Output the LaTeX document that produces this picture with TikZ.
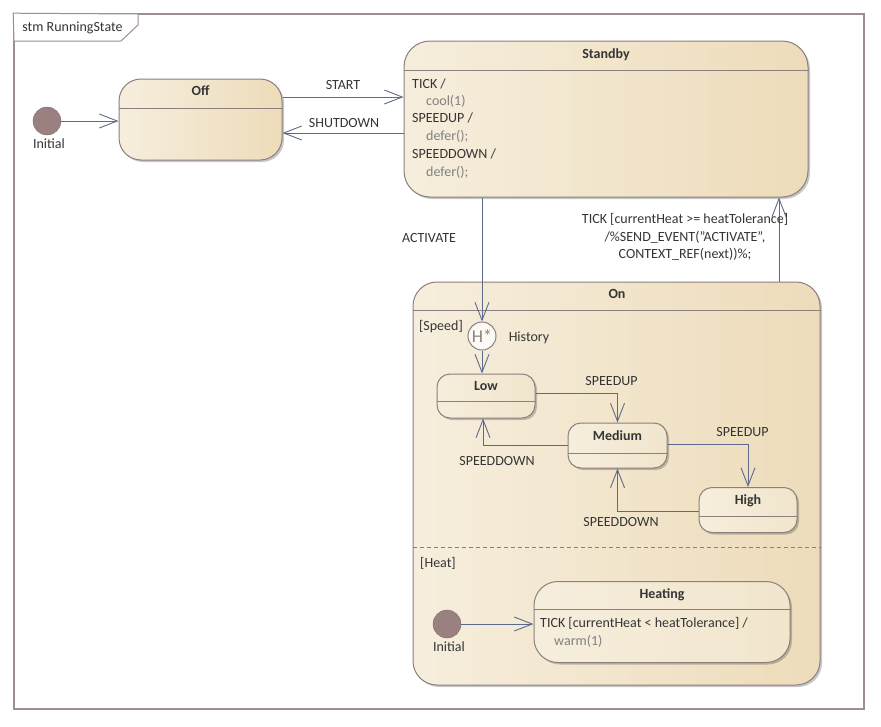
\documentclass[tikz,border=0pt]{standalone}
\usepackage{fontspec}
\setmainfont{Carlito}
\usetikzlibrary{arrows.meta,shadows,calc}
\definecolor{bord}{HTML}{8E7E7E}
\definecolor{framec}{HTML}{9E8E8E}
\definecolor{edge}{HTML}{5C6B8C}
\definecolor{fillL}{HTML}{F6EEDD}
\definecolor{fillR}{HTML}{EDDCBA}
\definecolor{fillIR}{HTML}{F1E5CC}
\definecolor{txt}{HTML}{353535}
\definecolor{act}{HTML}{808080}
\definecolor{initc}{HTML}{9A8080}
\begin{document}
\begin{tikzpicture}[x=1pt,y=-1pt,
  lbl/.style={inner sep=0pt, text=txt, text height=9pt, text depth=2.5pt, yshift=-1.5pt, font=\fontsize{14}{17.6}\selectfont},
  actl/.style={lbl, text=act},
  ttl/.style={lbl, font=\fontsize{14}{17.6}\selectfont\bfseries},
  statebox/.style={draw=bord, line width=1pt, left color=fillL, right color=fillR,
    drop shadow={shadow xshift=2pt, shadow yshift=-2pt, opacity=.22, fill=black}},
  innerbox/.style={statebox, right color=fillIR},
  hdr/.style={draw=bord, line width=1pt},
  initst/.style={circle, fill=initc, draw=initc!85!black, line width=.4pt, minimum size=28pt, inner sep=0pt},
  tr/.style={draw=edge, line width=0.9pt, -{Straight Barb[length=18pt,width=14pt]}}]
\useasboundingbox (0,0) rectangle (881,726);
\fill[white] (0,0) rectangle (881,726);

% frame
\node[draw=framec, line width=1.6pt, minimum width=850pt, minimum height=695pt, inner sep=0pt] (frame) at (439,361.5) {};
\draw[draw=framec, line width=1pt, fill=white] (frame.north west) -- (138,14) -- (138,25) -- (121,41) -- (14,41) -- cycle;
\node[lbl] (framelbl) at (72.5,27) {stm RunningState};

% Off
\node[initst] (init1) at (47,121) {};
\node[lbl] (init1lbl) at (49,144) {Initial};
\node[statebox, rounded corners=22pt, minimum width=163pt, minimum height=81pt] (off) at (200.5,119.5) {};
\draw[hdr] (off.west |- 0,108) -- (off.east |- 0,108);
\node[ttl] (offt) at (200.5,91) {Off};

% Standby
\node[statebox, rounded corners=26pt, minimum width=404pt, minimum height=156pt] (standby) at (606,119) {};
\draw[hdr] (standby.west |- 0,70) -- (standby.east |- 0,70);
\node[ttl] (standbyt) at (606,54) {Standby};
\node[lbl, anchor=west] (sb1) at (412,84) {TICK /};
\node[actl, anchor=west] (sb2) at (426,101) {cool(1)};
\node[lbl, anchor=west] (sb3) at (412,118) {SPEEDUP /};
\node[actl, anchor=west] (sb4) at (426,136) {defer();};
\node[lbl, anchor=west] (sb5) at (412,154) {SPEEDDOWN /};
\node[actl, anchor=west] (sb6) at (426,172) {defer();};

% On
\node[statebox, rounded corners=24pt, minimum width=407pt, minimum height=403pt] (on) at (616.5,483.5) {};
\draw[hdr] (on.west |- 0,310) -- (on.east |- 0,310);
\node[ttl] (ont) at (617,294) {On};
\draw[draw=bord, line width=.8pt, dash pattern=on 4pt off 3pt] (on.west |- 0,547) -- (on.east |- 0,547);
\node[lbl] (speedlbl) at (441,326) {[Speed]};
\node[lbl] (heatlbl) at (438,563) {[Heat]};

% history
\node[circle, draw=bord, line width=1pt, fill=white!70!fillL, minimum size=28pt, inner sep=0pt,
  font=\fontsize{18}{18}\selectfont, text=bord] (hist) at (482,336) {H*};
\node[lbl] (histlbl) at (529,337) {History};

% speed states
\node[innerbox, rounded corners=13pt, minimum width=98pt, minimum height=44pt] (low) at (486,396) {};
\draw[hdr] (low.west |- 0,401) -- (low.east |- 0,401);
\node[ttl] (lowt) at (486,386) {Low};
\node[innerbox, rounded corners=13pt, minimum width=99pt, minimum height=45pt] (medium) at (617.5,445.5) {};
\draw[hdr] (medium.west |- 0,453) -- (medium.east |- 0,453);
\node[ttl] (mediumt) at (617.5,436) {Medium};
\node[innerbox, rounded corners=13pt, minimum width=98pt, minimum height=45pt] (high) at (748,510) {};
\draw[hdr] (high.west |- 0,516) -- (high.east |- 0,516);
\node[ttl] (hight) at (748,500) {High};

% heat region
\node[initst] (init2) at (447,624) {};
\node[lbl] (init2lbl) at (449,647) {Initial};
\node[innerbox, rounded corners=24pt, minimum width=256pt, minimum height=81pt] (heating) at (662,622) {};
\draw[hdr] (heating.west |- 0,609) -- (heating.east |- 0,609);
\node[ttl] (heatingt) at (662,594) {Heating};
\node[lbl, anchor=west] (ht1) at (540,623) {TICK [currentHeat < heatTolerance] /};
\node[actl, anchor=west] (ht2) at (554,641) {warm(1)};

% transitions
\draw[tr] (init1) -- (init1 -| off.west);
\draw[tr] (off.east |- 0,97) -- (standby.west |- 0,97);
\node[lbl] (startl) at (343,85) {START};
\draw[tr] (standby.west |- 0,133) -- (off.east |- 0,133);
\node[lbl] (shutl) at (344,123) {SHUTDOWN};
\draw[tr] (hist.north |- standby.south) -- (hist.north);
\node[lbl] (actl) at (429,238) {ACTIVATE};
\coordinate (tk) at (779,0);
\draw[tr] (tk |- on.north) -- (tk |- standby.south);
\node[lbl, align=center, text height=, text depth=] (tickl) at (685,235.5) {TICK [currentHeat >= heatTolerance]\\/\%SEND\_EVENT("ACTIVATE",\\CONTEXT\_REF(next))\%;};
\draw[tr] (hist.south) -- (hist.south |- low.north);
\draw[tr] (low.east |- 0,393) -| (medium.north);
\node[lbl] (su1) at (611.5,381) {SPEEDUP};
\draw[tr] (medium.west |- 0,445) -| ([xshift=-3pt]low.south);
\node[lbl] (sd1) at (497,461) {SPEEDDOWN};
\draw[tr] (medium.east |- 0,444) -| (high.north);
\node[lbl] (su2) at (742.5,432) {SPEEDUP};
\draw[tr] (high.west |- 0,511) -| (medium.south);
\node[lbl] (sd2) at (621,521.5) {SPEEDDOWN};
\draw[tr] (init2) -- (init2 -| heating.west);
\end{tikzpicture}
\end{document}
